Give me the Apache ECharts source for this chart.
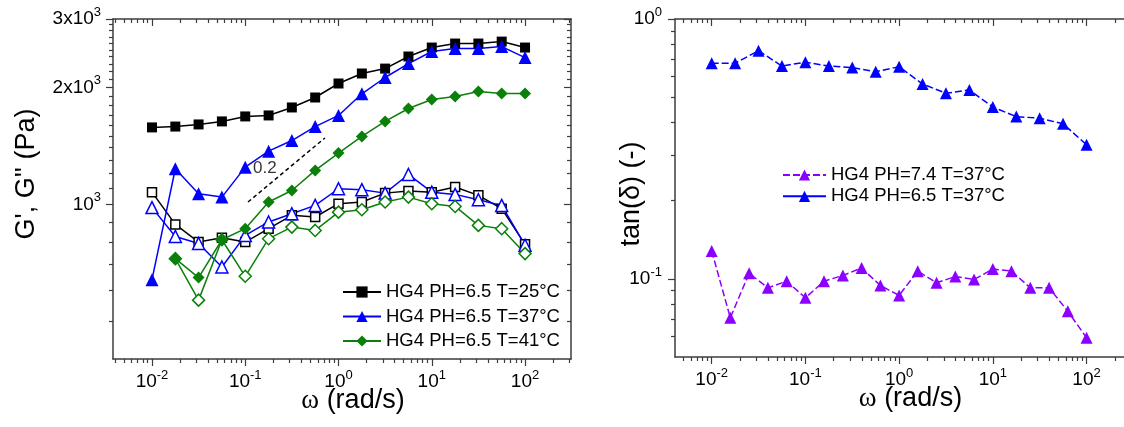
<!DOCTYPE html>
<html><head><meta charset="utf-8">
<script src="https://cdn.jsdelivr.net/npm/echarts@6/dist/echarts.min.js"></script>
<style>html,body{margin:0;padding:0;background:#fff}#c{width:1124px;height:427px}</style>
</head><body><div id="c"></div>
<script>
// ---------- data ----------
const omega = [0.01, 0.0178, 0.0316, 0.0562, 0.1, 0.178, 0.316, 0.562, 1, 1.78, 3.16, 5.62, 10, 17.8, 31.6, 56.2, 100];
const omegaPH74 = [0.01, 0.0158, 0.0251, 0.0398, 0.0631, 0.1, 0.158, 0.251, 0.398, 0.631, 1, 1.58, 2.51, 3.98, 6.31, 10, 15.8, 25.1, 39.8, 63.1, 100];

const gPrime25  = [1578, 1586, 1606, 1635, 1684, 1694, 1776, 1884, 2047, 2172, 2236, 2402, 2533, 2594, 2594, 2624, 2533];
const gDouble25 = [1075, 888, 800, 821, 800, 866, 937, 928, 1004, 1014, 1069, 1082, 1075, 1108, 1055, 975, 789];
const gPrime37  = [640, 1235, 1065, 1044, 1247, 1371, 1460, 1586, 1694, 1926, 2121, 2304, 2474, 2518, 2518, 2548, 2387];
const gDouble37 = [981, 827, 793, 690, 832, 901, 946, 994, 1097, 1091, 1069, 1194, 1075, 1061, 1028, 994, 785];
const gPrime41  = [null, 725, 648, 811, 866, 1014, 1086, 1223, 1355, 1496, 1635, 1765, 1862, 1895, 1952, 1929, 1929];
const gDouble41 = [null, 725, 567, 811, 653, 816, 874, 857, 955, 969, 1014, 1044, 1004, 988, 883, 866, 747];

const tan65 = [0.676, 0.676, 0.755, 0.659, 0.682, 0.659, 0.650, 0.627, 0.655, 0.562, 0.518, 0.533, 0.458, 0.421, 0.415, 0.395, 0.328];
const tan74 = [0.128, 0.0708, 0.105, 0.0923, 0.0979, 0.0845, 0.0979, 0.103, 0.110, 0.0942, 0.0863, 0.107, 0.0965, 0.102, 0.0994, 0.109, 0.107, 0.0923, 0.0923, 0.075, 0.0593];

const slopeX = [0.107, 0.714];
const slopeY = [1014, 1482];
const slopeLabelPos = [0.121, 1238];
const slopeLabel = '0.2';

const legendLeft = ['HG4 PH=6.5 T=25°C', 'HG4 PH=6.5 T=37°C', 'HG4 PH=6.5 T=41°C'];
const legendRight = ['HG4 PH=7.4 T=37°C', 'HG4 PH=6.5 T=37°C'];

// ticks
const xTickValues = [0.01, 0.1, 1, 10, 100];
const xTickLabels = ['10^-2', '10^-1', '10^0', '10^1', '10^2'];
const gYTickValues = [1000, 2000, 3000];
const gYTickLabels = ['10^3', '2x10^3', '3x10^3'];
const tYTickValues = [0.1, 1];
const tYTickLabels = ['10^-1', '10^0'];

// axis ranges
const gXMin = 0.00382, gXMax = 311, gYMin = 400, gYMax = 3000;
const tXMin = 0.00406, tXMax = 251, tYMin = 0.05, tYMax = 1;

// ---------- helpers ----------
const FONT = '"Liberation Sans", Arial, sans-serif';
const L10 = Math.log10;
const AX = '#3c3c3c';
function pairs(xs, ys) { return xs.map((x, i) => [x, ys[i]]).filter(p => p[1] != null); }
function supRich(s) { const i = s.indexOf('^'); return i < 0 ? '{b|' + s + '}' : '{b|' + s.slice(0, i) + '}{s|' + s.slice(i + 1) + '}'; }
function fmt(vals, labels) { return v => { for (let i = 0; i < vals.length; i++) if (Math.abs(v - L10(vals[i])) < 1e-4) return supRich(labels[i]); return ''; }; }
function minorLog(min, max) {
  const out = [];
  for (let d = Math.floor(L10(min)); d <= Math.ceil(L10(max)); d++)
    for (let k = 2; k <= 9; k++) { const v = k * Math.pow(10, d); if (v > min && v < max) out.push(L10(v)); }
  return out;
}
function minorStep(a, b, step, skip) { const out = []; for (let v = a; v <= b; v += step) if (skip.indexOf(v) < 0) out.push(L10(v)); return out; }
const rich = {
  b: { fontSize: 19, fontFamily: FONT, color: '#000', lineHeight: 26 },
  s: { fontSize: 13, fontFamily: FONT, color: '#000', lineHeight: 10, verticalAlign: 'top' }
};
function deco(o) {
  const a = {
    type: 'value', gridIndex: o.grid, position: o.pos, min: o.min, max: o.max,
    axisLine: { show: !!o.line, onZero: false, lineStyle: { color: AX, width: 1.5 } },
    axisTick: { show: true, inside: !!o.inside, length: o.len, customValues: o.ticks, lineStyle: { color: AX, width: 1.2 } },
    axisLabel: o.labels ? { show: true, customValues: o.labelVals, formatter: o.labels, margin: o.margin, rich: rich } : { show: false },
    splitLine: { show: false }, silent: true
  };
  if (o.name) Object.assign(a, o.name);
  return a;
}

const gxMin = L10(gXMin), gxMax = L10(gXMax), gyMin = L10(gYMin), gyMax = L10(gYMax);
const txMin = L10(tXMin), txMax = L10(tXMax), tyMin = L10(tYMin), tyMax = L10(tYMax);
const xMaj = xTickValues.map(L10);
const gYMaj = gYTickValues.map(L10);
const tYMaj = tYTickValues.map(L10);
const gXMinor = minorLog(gXMin, gXMax);
const tXMinor = minorLog(tXMin, tXMax);
const gYMinor = minorStep(500, 2900, 100, [1000, 2000]);
const tYMinor = minorLog(tYMin, tYMax);

const xName = {
  name: '{w|ω} (rad/s)', nameLocation: 'middle', nameGap: 28, nameMoveOverlap: false,
  nameTextStyle: { fontSize: 27, fontFamily: FONT, color: '#000', padding: [0, 0, 0, 22],
    rich: { w: { fontSize: 27, fontFamily: '"Liberation Serif", serif', color: '#000' } } }
};

const xAxes = [
  { type: 'log', gridIndex: 0, min: gXMin, max: gXMax, show: false },
  deco({ grid: 0, pos: 'bottom', min: gxMin, max: gxMax, line: true, len: 7, ticks: xMaj, labels: fmt(xTickValues, xTickLabels), labelVals: xMaj, margin: 10, name: xName }),
  deco({ grid: 0, pos: 'bottom', min: gxMin, max: gxMax, len: 4, ticks: gXMinor }),
  deco({ grid: 0, pos: 'top', min: gxMin, max: gxMax, line: true, inside: true, len: 7, ticks: xMaj }),
  deco({ grid: 0, pos: 'top', min: gxMin, max: gxMax, inside: true, len: 4, ticks: gXMinor }),
  { type: 'log', gridIndex: 1, min: tXMin, max: tXMax, show: false },
  deco({ grid: 1, pos: 'bottom', min: txMin, max: txMax, line: true, len: 7, ticks: xMaj, labels: fmt(xTickValues, xTickLabels), labelVals: xMaj, margin: 10, name: xName }),
  deco({ grid: 1, pos: 'bottom', min: txMin, max: txMax, len: 4, ticks: tXMinor }),
  deco({ grid: 1, pos: 'top', min: txMin, max: txMax, line: true, inside: true, len: 7, ticks: xMaj }),
  deco({ grid: 1, pos: 'top', min: txMin, max: txMax, inside: true, len: 4, ticks: tXMinor })
];

const yAxes = [
  { type: 'log', gridIndex: 0, min: gYMin, max: gYMax, show: false },
  deco({ grid: 0, pos: 'left', min: gyMin, max: gyMax, line: true, len: 7, ticks: gYMaj, labels: fmt(gYTickValues, gYTickLabels), labelVals: gYMaj, margin: 12,
    name: { name: "G', G'' (Pa)", nameLocation: 'middle', nameRotate: 90, nameGap: 73, nameMoveOverlap: false,
      nameTextStyle: { fontSize: 27, fontFamily: FONT, color: '#000', padding: [0, 0, 0, 30] } } }),
  deco({ grid: 0, pos: 'left', min: gyMin, max: gyMax, len: 4, ticks: gYMinor }),
  deco({ grid: 0, pos: 'right', min: gyMin, max: gyMax, line: true, inside: true, len: 7, ticks: gYMaj }),
  deco({ grid: 0, pos: 'right', min: gyMin, max: gyMax, inside: true, len: 4, ticks: gYMinor }),
  { type: 'log', gridIndex: 1, min: tYMin, max: tYMax, show: false },
  deco({ grid: 1, pos: 'left', min: tyMin, max: tyMax, line: true, len: 7, ticks: tYMaj, labels: fmt(tYTickValues, tYTickLabels), labelVals: tYMaj, margin: 13,
    name: { name: 'tan(δ) (-)', nameLocation: 'middle', nameRotate: 90, nameGap: 30, nameMoveOverlap: false,
      nameTextStyle: { fontSize: 27, fontFamily: FONT, color: '#000', padding: [0, 12, 0, 0] } } }),
  deco({ grid: 1, pos: 'left', min: tyMin, max: tyMax, len: 4, ticks: tYMinor })
];

function filledLine(name, data, color, symbol, size, xi, yi, dash) {
  return { name, type: 'line', xAxisIndex: xi, yAxisIndex: yi, data, symbol, symbolSize: size,
    itemStyle: { color }, lineStyle: { color, width: 1.5, type: dash || 'solid' }, z: 3 };
}
function openLine(name, data, color, symbol, size) {
  return { name, type: 'line', xAxisIndex: 0, yAxisIndex: 0, data, symbol, symbolSize: size,
    itemStyle: { color: '#fff', borderColor: color, borderWidth: 1.5 }, lineStyle: { color, width: 1.5 }, z: 2 };
}
const BLUE = '#0000ff', GREEN = '#0a800a', PURPLE = '#8b00ff';

const series = [
  openLine("G'' 25", pairs(omega, gDouble25), '#000', 'rect', 9),
  openLine("G'' 37", pairs(omega, gDouble37), BLUE, 'triangle', 12),
  openLine("G'' 41", pairs(omega, gDouble41), GREEN, 'diamond', 12),
  filledLine(legendLeft[0], pairs(omega, gPrime25), '#000', 'rect', 10, 0, 0),
  filledLine(legendLeft[1], pairs(omega, gPrime37), BLUE, 'triangle', 13, 0, 0),
  filledLine(legendLeft[2], pairs(omega, gPrime41), GREEN, 'diamond', 12, 0, 0),
  { name: 'slope', type: 'line', xAxisIndex: 0, yAxisIndex: 0, data: pairs(slopeX, slopeY), symbol: 'none',
    lineStyle: { color: '#000', width: 1.5, type: [4, 3] }, silent: true, z: 1 },
  { name: 'slopeLabel', type: 'scatter', xAxisIndex: 0, yAxisIndex: 0, data: [slopeLabelPos], symbolSize: 0, silent: true,
    label: { show: true, position: 'right', distance: 0, formatter: slopeLabel, fontSize: 17, fontFamily: FONT, color: '#000' } },
  filledLine(legendRight[0], pairs(omegaPH74, tan74), PURPLE, 'triangle', 12, 5, 5, [7, 3]),
  filledLine(legendRight[1], pairs(omega, tan65), BLUE, 'triangle', 12, 5, 5, [7, 3])
];

const chart = echarts.init(document.getElementById('c'), null, { renderer: 'canvas' });
chart.setOption({
  animation: false,
  backgroundColor: '#fff',
  grid: [
    { left: 113, top: 19, width: 458, height: 340 },
    { left: 675, top: 19, width: 449, height: 338 }
  ],
  xAxis: xAxes,
  yAxis: yAxes,
  legend: [
    { data: legendLeft, orient: 'vertical', left: 337, top: 277, itemWidth: 38, itemHeight: 14, itemGap: 4.5, selectedMode: false,
      textStyle: { fontSize: 18.5, fontFamily: FONT, color: '#000', lineHeight: 20 } },
    { data: legendRight, orient: 'vertical', left: 777, top: 160, itemWidth: 43, itemHeight: 14, itemGap: 1.3, selectedMode: false,
      textStyle: { fontSize: 18.5, fontFamily: FONT, color: '#000', lineHeight: 20 } }
  ],
  series: series
});
</script></body></html>
